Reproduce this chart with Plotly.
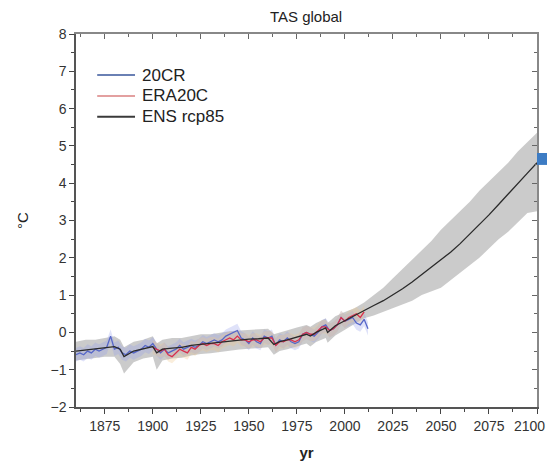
import plotly.graph_objects as go

# ---------------- data ----------------
ens_years = [1860, 1865, 1870, 1875, 1880, 1883, 1885, 1890, 1895, 1900, 1902, 1905,
             1910, 1915, 1920, 1925, 1930, 1935, 1940, 1945, 1950, 1955, 1960, 1963,
             1966, 1970, 1975, 1980, 1982, 1985, 1990, 1991, 1995, 2000, 2005, 2010,
             2015, 2020, 2025, 2030, 2035, 2040, 2045, 2050, 2055, 2060, 2065, 2070,
             2075, 2080, 2085, 2090, 2095, 2100]
ens_mean = [-0.50, -0.47, -0.45, -0.40, -0.38, -0.45, -0.65, -0.50, -0.45, -0.38, -0.55, -0.45,
            -0.42, -0.40, -0.35, -0.32, -0.30, -0.25, -0.22, -0.20, -0.18, -0.17, -0.15, -0.32,
            -0.25, -0.20, -0.12, -0.05, -0.10, 0.00, 0.12, 0.00, 0.18, 0.32, 0.45, 0.58,
            0.72, 0.85, 1.00, 1.17, 1.35, 1.55, 1.75, 1.93, 2.15, 2.38, 2.63, 2.88,
            3.15, 3.43, 3.72, 4.00, 4.27, 4.55]
ens_upper = [-0.25, -0.20, -0.20, -0.15, -0.10, -0.20, -0.40, -0.25, -0.20, -0.10, -0.30, -0.20,
             -0.15, -0.15, -0.10, -0.05, -0.05, 0.00, 0.03, 0.05, 0.07, 0.08, 0.10, -0.05,
             0.00, 0.05, 0.13, 0.20, 0.15, 0.25, 0.37, 0.25, 0.43, 0.55, 0.65, 0.80,
             1.00, 1.20, 1.45, 1.70, 1.95, 2.20, 2.45, 2.75, 3.00, 3.25, 3.50, 3.80,
             4.05, 4.30, 4.55, 4.85, 5.10, 5.35]
ens_lower = [-0.75, -0.72, -0.70, -0.65, -0.65, -0.85, -1.10, -0.80, -0.70, -0.65, -1.00, -0.75,
             -0.70, -0.68, -0.62, -0.58, -0.56, -0.52, -0.48, -0.46, -0.44, -0.42, -0.40, -0.60,
             -0.50, -0.45, -0.38, -0.30, -0.38, -0.26, -0.15, -0.28, -0.08, 0.07, 0.22, 0.38,
             0.45, 0.55, 0.65, 0.75, 0.85, 1.00, 1.10, 1.20, 1.40, 1.60, 1.80, 2.00,
             2.25, 2.50, 2.70, 2.95, 3.20, 3.25]

cr_years = list(range(1860, 2013, 2))
cr_vals = [-0.60, -0.55, -0.60, -0.50, -0.55, -0.45, -0.50, -0.45, -0.40, -0.10,
           -0.45, -0.40, -0.55, -0.60, -0.50, -0.55, -0.50, -0.45, -0.35, -0.40,
           -0.30, -0.45, -0.55, -0.45, -0.55, -0.50, -0.45, -0.35, -0.45, -0.40,
           -0.35, -0.40, -0.35, -0.25, -0.30, -0.25, -0.20, -0.25, -0.20, -0.10,
           -0.05, 0.00, 0.05, -0.15, -0.20, -0.30, -0.15, -0.25, -0.30, -0.10,
           -0.15, -0.10, -0.35, -0.20, -0.25, -0.15, -0.25, -0.30, -0.25, -0.05,
           0.00, -0.05, -0.10, 0.00, 0.15, 0.20, 0.05, 0.10, 0.20, 0.40,
           0.30, 0.35, 0.40, 0.25, 0.20, 0.35, 0.10]

era_years = list(range(1900, 2011, 2))
era_vals = [-0.40, -0.45, -0.50, -0.45, -0.60, -0.65, -0.55, -0.45, -0.50, -0.55,
            -0.40, -0.45, -0.35, -0.30, -0.35, -0.30, -0.30, -0.35, -0.25, -0.20,
            -0.15, -0.20, -0.10, -0.20, -0.20, -0.25, -0.20, -0.20, -0.25, -0.15,
            -0.15, -0.15, -0.35, -0.25, -0.25, -0.20, -0.20, -0.25, -0.20, -0.05,
            0.00, -0.05, -0.05, 0.05, 0.15, 0.15, 0.05, 0.10, 0.20, 0.40,
            0.30, 0.40, 0.45, 0.50, 0.40, 0.55]

band_halfwidth = 0.18   # reanalysis uncertainty shading

series_names = ["20CR", "ERA20C", "ENS rcp85"]
x_ticks = [1875, 1900, 1925, 1950, 1975, 2000, 2025, 2050, 2075, 2100]
x_tick_labels = ["1875", "1900", "1925", "1950", "1975", "2000", "2025", "2050", "2075", "2100"]
y_ticks = [-2, -1, 0, 1, 2, 3, 4, 5, 6, 7, 8]

# ---------------- figure ----------------
FONT = "Liberation Sans, Arial, sans-serif"
line_colors = ["#5566c8", "#d8304e", "#2a2a2a"]
key_colors = ["#6a80b4", "#e3a0a0", "#3a3a3a"]
fig = go.Figure()

# ENS spread
fig.add_trace(go.Scatter(x=ens_years, y=ens_upper, mode="lines", line=dict(width=0),
                         showlegend=False, hoverinfo="skip"))
fig.add_trace(go.Scatter(x=ens_years, y=ens_lower, mode="lines", line=dict(width=0),
                         fill="tonexty", fillcolor="rgba(175,175,175,0.65)",
                         showlegend=False, hoverinfo="skip"))
# 20CR spread
fig.add_trace(go.Scatter(x=cr_years, y=[v + band_halfwidth for v in cr_vals], mode="lines",
                         line=dict(width=0), showlegend=False, hoverinfo="skip"))
fig.add_trace(go.Scatter(x=cr_years, y=[v - band_halfwidth for v in cr_vals], mode="lines",
                         line=dict(width=0), fill="tonexty",
                         fillcolor="rgba(150,160,235,0.30)", showlegend=False, hoverinfo="skip"))
# ERA20C spread
fig.add_trace(go.Scatter(x=era_years, y=[v + band_halfwidth for v in era_vals], mode="lines",
                         line=dict(width=0), showlegend=False, hoverinfo="skip"))
fig.add_trace(go.Scatter(x=era_years, y=[v - band_halfwidth for v in era_vals], mode="lines",
                         line=dict(width=0), fill="tonexty",
                         fillcolor="rgba(240,200,140,0.30)", showlegend=False, hoverinfo="skip"))

fig.add_trace(go.Scatter(x=cr_years, y=cr_vals, mode="lines", name=series_names[0],
                         line=dict(color=line_colors[0], width=1.3), showlegend=False))
fig.add_trace(go.Scatter(x=era_years, y=era_vals, mode="lines", name=series_names[1],
                         line=dict(color=line_colors[1], width=1.3), showlegend=False))
fig.add_trace(go.Scatter(x=ens_years, y=ens_mean, mode="lines", name=series_names[2],
                         line=dict(color=line_colors[2], width=1.3), showlegend=False))

# helper trace for mirrored top/right axes
fig.add_trace(go.Scatter(x=[None], y=[None], xaxis="x2", yaxis="y2", showlegend=False,
                         hoverinfo="skip"))

# legend key (text + short lines; rows tighter than plotly's own legend allows)
key_rows = [0.890, 0.834, 0.778]
shapes = []
annotations = []
for name, col, yy in zip(series_names, key_colors, key_rows):
    shapes.append(dict(type="line", xref="paper", yref="paper", x0=0.046, x1=0.128,
                       y0=yy, y1=yy, line=dict(color=col, width=2)))
    annotations.append(dict(text=name, xref="paper", yref="paper", x=0.139, y=yy,
                            xanchor="left", yanchor="middle", showarrow=False,
                            font=dict(family=FONT, size=17, color="#222")))

# last x tick label sits at the window edge: right-align it so it is not clipped
annotations.append(dict(text=x_tick_labels[-1], xref="paper", yref="paper", x=1.0217, y=0,
                        xanchor="right", yanchor="top", yshift=-9, showarrow=False,
                        font=dict(family=FONT, size=14, color="#333")))
shown_labels = x_tick_labels[:-1] + [""]

# decorative mark at the right edge of the reference picture
shapes.append(dict(type="rect", xref="paper", yref="paper", x0=1.0, x1=1.04, y0=0.649, y1=0.681,
                   fillcolor="#3d7cc4", line=dict(width=0), layer="above"))

axis_common = dict(showgrid=False, zeroline=False, ticks="outside", ticklen=5, tickwidth=1,
                   tickcolor="#444", showline=True, linecolor="#555", linewidth=1.5,
                   automargin=False,
                   tickfont=dict(family=FONT, size=14, color="#333"))

# page body has an 8px margin: size the figure so it fits the 555x472 window exactly
fig.update_layout(
    width=539, height=456,
    margin=dict(l=68, r=10, t=26, b=57),
    paper_bgcolor="white", plot_bgcolor="white",
    title=dict(text="TAS global", x=0.553, xanchor="center", y=0.981, yanchor="middle",
               font=dict(family=FONT, size=15, color="#222")),
    xaxis=dict(range=[1860, 2100], tickvals=x_ticks, ticktext=shown_labels,
               minor=dict(dtick=12.5, tick0=1862.5, ticks="outside", ticklen=3, tickcolor="#444"),
               title=dict(text="<b>yr</b>", font=dict(family=FONT, size=15, color="#222"),
                          standoff=15),
               **axis_common),
    yaxis=dict(range=[-2, 8], tickvals=y_ticks, ticksuffix="\u2002",
               minor=dict(dtick=0.5, ticks="outside", ticklen=3, tickcolor="#444"),
               title=dict(text="°C", font=dict(family=FONT, size=15, color="#222"), standoff=18),
               **axis_common),
    xaxis2=dict(range=[1860, 2100], overlaying="x", side="top", tickvals=x_ticks,
                showticklabels=False, ticks="inside", ticklen=5, tickcolor="#666",
                minor=dict(dtick=12.5, tick0=1862.5, ticks="inside", ticklen=3, tickcolor="#666"),
                showgrid=False, zeroline=False, showline=True, linecolor="#888", linewidth=1.5),
    yaxis2=dict(range=[-2, 8], overlaying="y", side="right", tickvals=y_ticks,
                showticklabels=False, ticks="inside", ticklen=5, tickcolor="#666",
                minor=dict(dtick=0.5, ticks="inside", ticklen=3, tickcolor="#666"),
                showgrid=False, zeroline=False, showline=True, linecolor="#888", linewidth=1.5),
    showlegend=False,
    shapes=shapes,
    annotations=annotations,
)

fig.write_html("out.html")
